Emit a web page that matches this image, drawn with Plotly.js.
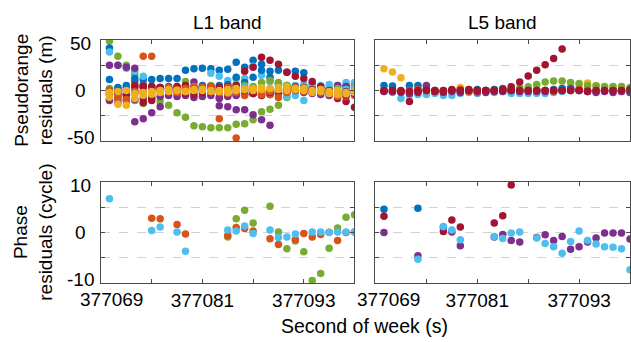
<!DOCTYPE html>
<html>
<head>
<meta charset="utf-8">
<script src="https://cdn.plot.ly/plotly-3.0.1.min.js"></script>
<style>html,body{margin:0;padding:0;background:#fff;}#chart{width:631px;height:342px;}</style>
</head>
<body>
<div id="chart"></div>
<script>
// ---- epochs (second of week) ----
const seconds = [377070, 377071, 377072, 377073, 377074, 377075, 377076, 377077, 377078, 377079,
                 377080, 377081, 377082, 377083, 377084, 377085, 377086, 377087, 377088, 377089,
                 377090, 377091, 377092, 377093, 377094, 377095, 377096, 377097, 377098, 377099];

// ---- tick labels ----
const xTickVals = [377069, 377075, 377081, 377087, 377093, 377099];
const xTickText = ['', '', '377081', '', '377093', ''];
const xFirstLabel = '377069';
const prTickVals = [-50, -25, 0, 25, 50];
const prTickText = ['-50', '', '0', '', '50'];
const phTickVals = [-10, -5, 0, 5, 10];
const phTickText = ['-10', '', '0', '', '10'];

// ---- L1 pseudorange residuals (m) ----
const prL1Blue1   = [42, 3, 5, 12, 11, 11, 12, 12, 12, 20, 21.6, 22, 21.5, 20, 21, 28, 23, 30, 26, 19, 20, 18, 19, 17.6, 6, 3, 2, 4, 5, 6];
const prL1Blue2   = [11, 2, 3, 9, 3, 2, 3, 4, 2, 4, 3, 5, 4, 5, 6, 13, 8, 13, 20, 13, 7, 5, 4, 3, 2, 1, 0, -2, -3, -2];
const prL1LBlue1  = [38, 25, 22, 19, 14, 1, 3, 2, 1, 3, 2, 4, 17, 14, 10, 12, 12, 24, 15, 9, 5, 4, 5, 6, 4, 5, 6, 5, 8, 8];
const prL1LBlue2  = [-3, -5, -4, -2, 0, 1, -1, 0, 2, 1, 0, 1, 2, 0, 1, 2, 3, 1, 0, -2, -4, -6, -5, -10, 3, 2, 1, 0, 1, 2];
const prL1Orange1 = [-2, -7, -9, -1, 34, 34, 0, -1, -2, 1, 2, 3, 0, -2, -3, -2, 1, 2, -4, -1, 1, 2, 3, -1, 0, 1, -2, -6, -4, -1];
const prL1Orange2 = [0, -3, -5, -3, -2, 1, 2, 3, 1, 2, 3, 2, 4, -28, 3, -47, -5, -3, -2, -4, -7, -2, 0, 3, -1, -2, -3, -3, -6, -5];
const prL1Purple1 = [25, 25, 23, 22, 5, 4, 3, 2, 1, 0, 8.5, 1, 2, -8, -5, -4, -3, -2, -1, -4, -3, -2, 0, -1, -2, -1, -3, 5, 4, 3];
const prL1Purple2 = [-10, -12, null, -31, -28, -22, -16, null, null, null, null, null, null, -15, -16, -19, -19, -24, -29, -34.5, null, null, null, null, null, null, null, null, null, null];
const prL1Purple3 = [-9, -8, -10, -9, -8, -7, -6, -5, -6, -5, -7, -6, -5, -7, -6, -5, -4, -3, -4, -3, -2, -1, 0, -2, -3, -4, -5, -2, -1, -3];
const prL1Green1  = [49, 34, 25, 16, 6, -3, -11, -14.5, -22, -26.5, -35, -36, -37, -37, -37, -33.5, -33, -29, -21, -18.5, -14.5, -7, null, null, null, null, null, null, null, null];
const prL1Green2  = [2, -3, -5, -10, -13, -8, 0, 2, 3, 9, 4, 3, 5, 2, 4, 6, 5, 4, 8, 10, 8, 5, 3, 1, 2, 0, 1, 2, 1, 3];
const prL1Red1    = [0, -1, 0, 5, -12, -10, 3, 2, 4, 5, 3, 2, 4, 3, 4, 5, 19, 23, 33, 30, 26, 18, 14, 12, 9, 4, 0, -8, -11, -16.5];
const prL1Red2    = [-4, -2, -4, 3, 4, 4, 2, 0, -2, -3, -4, -2, -1, 0, 1, 2, 0, -3, -5, -2, 0, 1, 2, 0, 1, -1, -2, -4, -5, -3];
const prL1Yellow1 = [-6.6, -13.7, -14.7, -8, -4.8, -3.8, -2, -1, 0, -1, 0, 1, 0, -1, -2, 0, 1, 2, 3, 2, 3, 4, 2, 0, -2, -1, -3, -4, -3, -2];
const prL1Yellow2 = [-2, -1, 0, -3, -2, -1, 0, 1, 0, -1, 1, 0, -1, 0, 1, 2, 1, 0, 1, 2, 1, 0, 1, 2, 0, 1, -1, 0, -2, -1];

// ---- L5 pseudorange residuals (m) ----
const prL5Yellow = [21.6, 18.3, 12.7, -0.5, 4, 2, 0, -1, 0, 3, 1, 0, 0, 1, 0, 0, 0, 0, 1, 0, 1, 2, 3, 6, 7.5, 5, 3, 2, 1, 1];
const prL5Blue   = [5, 4.5, null, 5, 5, 1, 0, -1, 0, 0, 0, 1, 0, 1, 2, 1, 0, 0, 0, 0, 1, 2, 2, 1, 0, 0, 0, 0, 0, 0];
const prL5LBlue  = [-1, -2, -8, -4.8, -4, -4, -3, -5, -5, -3, -2, -3, -1, -2, -1, -3, -3, -3, -3, -3, -2, -1, 0, 0, -1, -1, 0, 0, -1, -2];
const prL5Orange = [0, -1, -1, 0, 1, 0, -1, 0, 0, 1, -1, -2, -1, 0, 0, 0, 0, 0, 0, 0, -1, 0, 0, 1, 0, -1, 0, 0, 0, -1];
const prL5Purple = [-1, -1, -2, -3, -2, 5, -1, -2, -1, -2, 0, -1, -2, -1, -1, 0, -1, -1, -1, -1, 0, 0, 1, 0, -1, -2, -1, -2, -1, -2];
const prL5Green  = [null, null, null, null, null, null, null, null, null, null, null, null, null, null, 0.5, 1.5, 2.5, 3.8, 6, 8.4, 9.4, 9.4, 7.8, 7, 5, 4.5, 4, 4, 4, 3];
const prL5Red1   = [-0.5, 0, -1, -11, -1, 0, 0, -1, 0, 0, 1, 0, 0, 0, 1, 3.8, 8.4, 14.3, 20, 25.5, 31.8, 41, null, null, null, null, null, null, null, null];
const prL5Red2   = [0, 0, 0, -1, 0, 0, -1, 0, 1, 0, 0, 0, 0, 0, 0, 0, 0, 0, 0, 0, 0, 0, 0, 0, -1, 0, 0, 0, 0, 1];

// ---- L1 phase residuals (cycle) ----
const phL1Green  = [null, null, null, null, null, null, null, null, null, null, null, null, null, null, -0.9, 2.7, 4.4, 1.9, null, 5.2, 0.1, -3.2, -1.7, -3.8, -9.5, -8.1, -3.1, 0.9, 3.0, 3.5];
const phL1Orange = [null, null, null, null, null, 2.8, 2.7, null, 1.6, -0.3, null, null, null, null, -0.6, 1.0, 0.8, 0.3, null, -1.25, -2.4, null, -1.4, -0.2, -0.9, -0.4, 0.07, -1.6, 0, 0.1];
const phL1LBlue  = [6.7, null, null, null, null, 0.4, 1.1, null, 0.1, -3.7, null, null, null, null, 0.5, 0.3, 1.3, -0.2, null, 0.5, -1.0, -0.9, -0.3, null, 0.1, 0.1, 0, 0.1, 0.1, 0.1];

// ---- L5 phase residuals (cycle) ----
const phL5Blue   = [4.6, null, null, null, 4.8, null, null, null, null, null, null, null, null, null, null, null, null, null, null, null, null, null, null, null, null, null, null, null, null, null];
const phL5Red    = [3.2, null, null, null, null, null, null, 0.2, 2.5, 1.1, null, null, null, 1.9, 3.3, 9.4, null, null, null, null, null, null, null, null, null, null, null, null, null, null];
const phL5Purple = [0, null, null, null, -4.6, null, null, 1.0, 0.1, -2.6, null, null, null, -0.9, -0.4, -1.6, -1.9, null, -1.0, -0.45, -1.6, -0.8, -3.3, -2.8, -1.9, -1.1, -0.1, -0.1, -0.1, -1.3];
const phL5LBlue  = [null, null, null, null, -5.3, null, null, 1.2, 0.5, -1.45, null, null, null, -0.8, -1.2, -0.1, 0.1, null, -1.1, -2.2, -2.8, -4.1, -1.8, 0.3, -1.6, -2.3, -2.8, -2.9, -3.2, -7.4];

// ---- colours ----
const C = {blue:'#0072BD', orange:'#D95319', yellow:'#EDB120', purple:'#7E2F8E',
           green:'#77AC30', lblue:'#4DBEEE', red:'#A2142F'};

function pts(vals, color, xa, ya) {
  return {x: seconds, y: vals, xaxis: xa, yaxis: ya, type: 'scatter', mode: 'markers',
          marker: {color: color, size: 7.5, line: {width: 0}}, hoverinfo: 'skip', showlegend: false, cliponaxis: true};
}

const data = [
  // top-left
  pts(prL1Green1, C.green, 'x', 'y'),
  pts(prL1Purple2, C.purple, 'x', 'y'),
  pts(prL1Blue1, C.blue, 'x', 'y'),
  pts(prL1LBlue1, C.lblue, 'x', 'y'),
  pts(prL1Blue2, C.blue, 'x', 'y'),
  pts(prL1Purple1, C.purple, 'x', 'y'),
  pts(prL1Green2, C.green, 'x', 'y'),
  pts(prL1LBlue2, C.lblue, 'x', 'y'),
  pts(prL1Purple3, C.purple, 'x', 'y'),
  pts(prL1Red1, C.red, 'x', 'y'),
  pts(prL1Orange2, C.orange, 'x', 'y'),
  pts(prL1Red2, C.red, 'x', 'y'),
  pts(prL1Orange1, C.orange, 'x', 'y'),
  pts(prL1Yellow1, C.yellow, 'x', 'y'),
  pts(prL1Yellow2, C.yellow, 'x', 'y'),
  // top-right
  pts(prL5Yellow, C.yellow, 'x2', 'y2'),
  pts(prL5Green, C.green, 'x2', 'y2'),
  pts(prL5Blue, C.blue, 'x2', 'y2'),
  pts(prL5LBlue, C.lblue, 'x2', 'y2'),
  pts(prL5Orange, C.orange, 'x2', 'y2'),
  pts(prL5Purple, C.purple, 'x2', 'y2'),
  pts(prL5Red1, C.red, 'x2', 'y2'),
  pts(prL5Red2, C.red, 'x2', 'y2'),
  // bottom-left
  pts(phL1Green, C.green, 'x3', 'y3'),
  pts(phL1Orange, C.orange, 'x3', 'y3'),
  pts(phL1LBlue, C.lblue, 'x3', 'y3'),
  // bottom-right
  pts(phL5Blue, C.blue, 'x4', 'y4'),
  pts(phL5Red, C.red, 'x4', 'y4'),
  pts(phL5Purple, C.purple, 'x4', 'y4'),
  pts(phL5LBlue, C.lblue, 'x4', 'y4')
];

const FONT = 'Liberation Sans, Arial, Helvetica, sans-serif';
const lineCol = '#4a4a4a';
function xax(domain, anchor, labels) {
  return {domain: domain, anchor: anchor, range: [377069, 377099], showline: true, mirror: 'ticks',
          linecolor: lineCol, linewidth: 1, ticks: 'inside', ticklen: 4, tickcolor: lineCol,
          tickvals: xTickVals, ticktext: xTickText, showticklabels: labels, showgrid: false,
          zeroline: false, fixedrange: true, tickfont: {family: FONT, size: 19, color: '#000'}};
}
function yax(domain, anchor, range, vals) {
  return {domain: domain, anchor: anchor, range: range, showline: true, mirror: 'ticks',
          linecolor: lineCol, linewidth: 1, ticks: 'inside', ticklen: 4, tickcolor: lineCol,
          tickvals: vals, showticklabels: false, showgrid: true,
          gridcolor: '#d2d2d2', griddash: 'dash', gridwidth: 1, zeroline: false, fixedrange: true};
}

const dL = [0, 0.4792], dR = [0.5189, 1];
const dT = [0.5844, 1], dB = [0, 0.4156];

// y tick labels, centred in a column left of the axes (as in the reference)
function yLabels(vals, text, yref, lo, hi) {
  const out = [];
  vals.forEach((v, i) => {
    if (!text[i]) return;
    out.push({text: text[i], xref: 'paper', yref: yref, x: -0.0396, y: v,
              yshift: v === hi ? -3 : (v === lo ? 3 : 0),
              xanchor: 'center', yanchor: 'middle', showarrow: false, font: {size: 19}});
  });
  return out;
}

const annotations = [
  {text: 'L1 band', xref: 'paper', yref: 'paper', x: 0.2396, y: 1.074, xanchor: 'center', yanchor: 'middle', showarrow: false, font: {size: 19}},
  {text: 'L5 band', xref: 'paper', yref: 'paper', x: 0.7596, y: 1.074, xanchor: 'center', yanchor: 'middle', showarrow: false, font: {size: 19}},
  {text: 'Pseudorange<br>residuals (m)', xref: 'paper', yref: 'paper', x: -0.128, y: 0.792, xanchor: 'center', yanchor: 'middle', textangle: -90, showarrow: false, font: {size: 19}},
  {text: 'Phase<br>residuals (cycle)', xref: 'paper', yref: 'paper', x: -0.128, y: 0.208, xanchor: 'center', yanchor: 'middle', textangle: -90, showarrow: false, font: {size: 19}},
  {text: 'Second of week (s)', xref: 'paper', yref: 'paper', x: 0.498, y: -0.177, xanchor: 'center', yanchor: 'middle', showarrow: false, font: {size: 19.5}},
  {text: xFirstLabel, xref: 'x3', yref: 'paper', x: 377069, y: -0.0658, xshift: 10, yshift: -1, xanchor: 'center', yanchor: 'middle', showarrow: false, font: {size: 19}},
  {text: xFirstLabel, xref: 'x4', yref: 'paper', x: 377069, y: -0.0658, xshift: 13, yshift: -1, xanchor: 'center', yanchor: 'middle', showarrow: false, font: {size: 19}}
].concat(yLabels(prTickVals, prTickText, 'y', -50, 50), yLabels(phTickVals, phTickText, 'y3', -10, 10));

const layout = {
  width: 631, height: 342,
  margin: {l: 101, r: 1, t: 40, b: 59},
  paper_bgcolor: '#fff', plot_bgcolor: '#fff',
  font: {family: FONT, size: 19, color: '#000'},
  showlegend: false,
  xaxis:  xax(dL, 'y', false),
  xaxis2: xax(dR, 'y2', false),
  xaxis3: xax(dL, 'y3', true),
  xaxis4: xax(dR, 'y4', true),
  yaxis:  yax(dT, 'x', [-50, 50], prTickVals),
  yaxis2: yax(dT, 'x2', [-50, 50], prTickVals),
  yaxis3: yax(dB, 'x3', [-10, 10], phTickVals),
  yaxis4: yax(dB, 'x4', [-10, 10], phTickVals),
  annotations: annotations
};

Plotly.newPlot('chart', data, layout, {staticPlot: true, displayModeBar: false});
</script>
</body>
</html>
